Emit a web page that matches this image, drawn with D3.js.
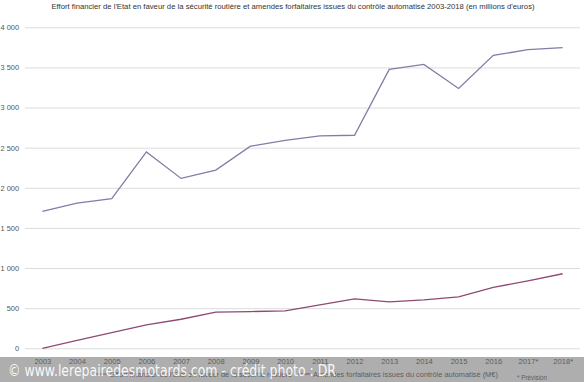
<!DOCTYPE html>
<html>
<head>
<meta charset="utf-8">
<script src="https://cdn.jsdelivr.net/npm/d3@7"></script>
<style>
  body { margin: 0; background: #fff; }
  svg { display: block; font-family: "Liberation Sans", Arial, sans-serif; }
</style>
</head>
<body>
<div id="chart"></div>
<script>
// data (millions d'euros)
const years = ['2003', '2004', '2005', '2006', '2007', '2008', '2009', '2010',
  '2011', '2012', '2013', '2014', '2015', '2016', '2017*', '2018*'];
const effortEtat = [1706, 1810, 1864, 2447, 2117, 2221, 2518, 2590,
  2646, 2655, 3475, 3537, 3237, 3650, 3721, 3746];
const amendes = [0, 98, 196, 291, 362, 450, 458, 466,
  541, 616, 579, 604, 641, 758, 841, 929];
const yTicks = [0, 500, 1000, 1500, 2000, 2500, 3000, 3500, 4000];

const title = "Effort financier de l'Etat en faveur de la sécurité routière et amendes forfaitaires issues du contrôle automatisé 2003-2018 (en millions d'euros)";
const legendLabels = ["Effort financier de l'Etat en faveur de la sécurité routière",
  'Amendes forfaitaires issues du contrôle automatisé (M€)'];
const colors = ['#7f7ea6', '#8d4b73'];

const width = 584, height = 382;
const margin = { left: 25, right: 4, top: 27.3, bottom: 348.3 };
const font = '"Liberation Sans", Arial, sans-serif';

const svg = d3.select('#chart').append('svg')
  .attr('width', width)
  .attr('height', height);

const x = d3.scalePoint()
  .domain(years)
  .range([margin.left, width - margin.right])
  .padding(0.5);

const y = d3.scaleLinear()
  .domain([0, 4000])
  .range([margin.bottom, margin.top]);

const fmt = (v) => d3.format(',')(v).replace(/,/g, ' ');

// title
svg.append('text')
  .attr('x', 293)
  .attr('y', 9)
  .attr('text-anchor', 'middle')
  .attr('font-size', '7.7px')
  .attr('fill', '#333')
  .text(title);

// gridlines + y labels
const yAxis = d3.axisLeft(y)
  .tickValues(yTicks)
  .tickSize(-(width - margin.right - margin.left))
  .tickPadding(6)
  .tickFormat(fmt);

const gy = svg.append('g')
  .attr('class', 'y axis')
  .attr('transform', `translate(${margin.left},0)`)
  .call(yAxis);
gy.select('.domain').remove();
gy.selectAll('line').attr('stroke', '#dcdcdc');
gy.selectAll('text')
  .attr('font-size', '7.4px')
  .attr('fill', '#555')
  .attr('font-family', font);

// x labels
const xAxis = d3.axisBottom(x).tickSize(0).tickPadding(10);
const gx = svg.append('g')
  .attr('class', 'x axis')
  .attr('transform', `translate(0,${margin.bottom})`)
  .call(xAxis);
gx.select('.domain').remove();
gx.selectAll('text')
  .attr('font-size', '7.6px')
  .attr('fill', '#333')
  .attr('font-family', font);

// lines
const line = d3.line()
  .x((d, i) => x(years[i]))
  .y((d) => y(d));

[effortEtat, amendes].forEach((serie, i) => {
  svg.append('path')
    .datum(serie)
    .attr('fill', 'none')
    .attr('stroke', colors[i])
    .attr('stroke-width', 1.3)
    .attr('d', line);
});

// legend
const legendX = [95, 298];
const legend = svg.append('g').attr('class', 'legend');
legendLabels.forEach((lab, i) => {
  legend.append('line')
    .attr('x1', legendX[i]).attr('x2', legendX[i] + 12)
    .attr('y1', 374).attr('y2', 374)
    .attr('stroke', colors[i])
    .attr('stroke-width', 1.3);
  legend.append('text')
    .attr('x', legendX[i] + 15)
    .attr('y', 377)
    .attr('font-size', '7.4px')
    .attr('fill', '#333')
    .text(lab);
});
legend.append('text')
  .attr('x', 517)
  .attr('y', 379.5)
  .attr('font-size', '6.3px')
  .attr('fill', '#333')
  .text('* Prévision');

// watermark band
svg.append('rect')
  .attr('x', 0)
  .attr('y', 357)
  .attr('width', width)
  .attr('height', height - 357)
  .attr('fill', 'rgba(120,120,120,0.6)');

svg.append('text')
  .attr('x', 8)
  .attr('y', 376)
  .attr('font-size', '15px')
  .attr('textLength', 328)
  .attr('lengthAdjust', 'spacingAndGlyphs')
  .attr('fill', 'rgba(255,255,255,0.92)')
  .attr('font-family', '"DejaVu Sans", sans-serif')
  .text('© www.lerepairedesmotards.com - crédit photo : DR');
</script>
</body>
</html>
